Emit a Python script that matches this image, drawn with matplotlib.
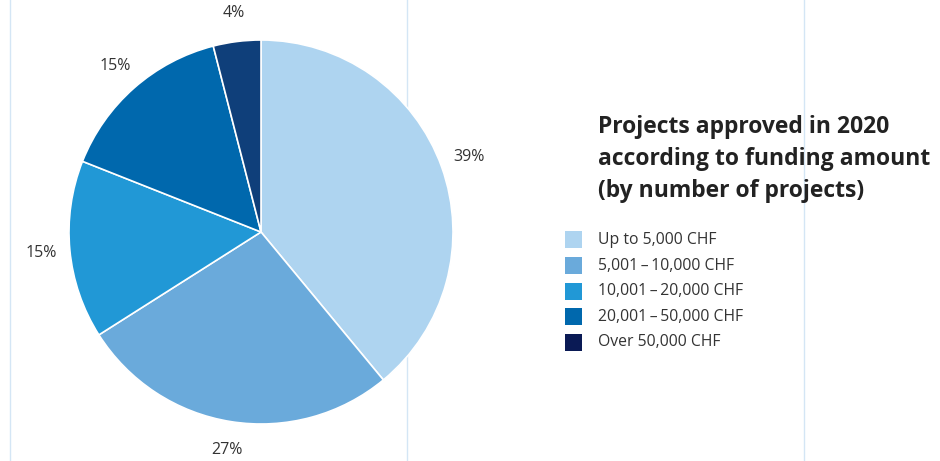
import matplotlib
matplotlib.use("Agg")
import matplotlib.pyplot as plt
from matplotlib.patches import Rectangle
from matplotlib.lines import Line2D

plt.rcParams['font.family'] = ['Open Sans', 'DejaVu Sans']

# data
categories = ['Up to 5,000 CHF', '5,001\u2009\u2013\u200910,000 CHF', '10,001\u2009\u2013\u200920,000 CHF',
              '20,001\u2009\u2013\u200950,000 CHF', 'Over 50,000 CHF']
shares = [39, 27, 15, 15, 4]
pie_colors = ['#aed4f0', '#6aaadb', '#2198d6', '#0068ad', '#0f3f7a']
legend_colors = ['#aed4f0', '#6aaadb', '#2198d6', '#0068ad', '#0a1a55']
title = 'Projects approved in 2020\naccording to funding amount\n(by number of projects)'

W, H = 940, 461
fig = plt.figure(figsize=(W / 100, H / 100), dpi=100)

# light vertical guide lines
for xp in [10, 407, 804]:
    fig.add_artist(Line2D([xp / W, xp / W], [0, 1], color='#d4e6f5', lw=1, zorder=0))

# pie centred at (261, 232) px, radius 192 px
cx, cy, r = 261, 232, 192
ax = fig.add_axes([(cx - r) / W, (H - cy - r) / H, 2 * r / W, 2 * r / H])
wedges, texts = ax.pie(shares, colors=pie_colors, startangle=90, counterclock=False,
                       radius=1, wedgeprops=dict(edgecolor='white', linewidth=1.2),
                       autopct='%d%%', pctdistance=1.15,
                       textprops=dict(fontsize=11.5, color='#333333'))[:2]
ax.set_xlim(-1, 1)
ax.set_ylim(-1, 1)
ax.set_aspect('auto')
ax.axis('off')

# title
fig.text(598 / W, 1 - 115 / H, title, fontsize=16.5, fontweight='bold', color='#222222',
         va='top', ha='left', linespacing=1.45)

# legend
y0 = 240
for i, (lab, col) in enumerate(zip(categories, legend_colors)):
    yp = y0 + i * 25.5
    fig.add_artist(Rectangle((565 / W, 1 - (yp + 8.5) / H), 17 / W, 17 / H,
                             transform=fig.transFigure, color=col, lw=0))
    fig.text(598 / W, 1 - yp / H, lab, fontsize=11.3, color='#333333', va='center', ha='left')

fig.savefig('out.png', dpi=100)
